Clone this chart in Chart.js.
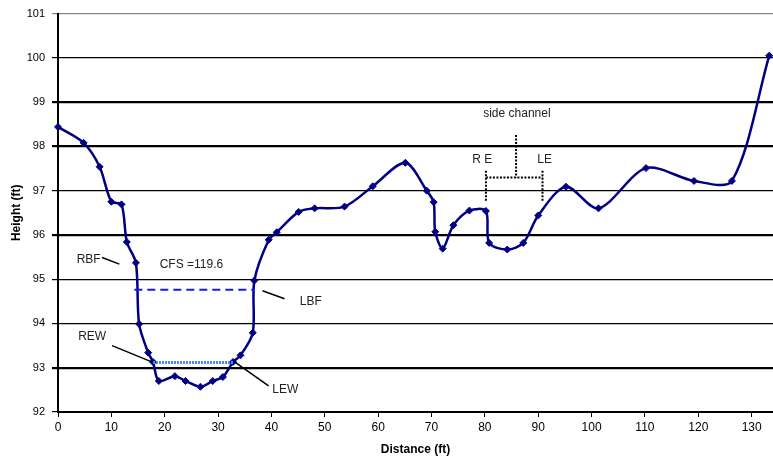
<!DOCTYPE html>
<html>
<head>
<meta charset="utf-8">
<script src="https://cdn.jsdelivr.net/npm/chart.js@4.4.0/dist/chart.umd.min.js"></script>
<style>
  html, body { margin: 0; padding: 0; background: #fff; }
  #wrap { width: 773px; height: 463px; }
</style>
</head>
<body>
<div id="wrap"><canvas id="xsChart" width="773" height="463"></canvas></div>
<script>
// surveyed cross-section (distance ft, height ft)
const distance = [0, 4.8, 7.8, 10.0, 11.9, 12.9, 14.6, 15.2, 16.9, 17.8, 18.9, 21.9, 23.9, 26.7,
  29.0, 30.9, 32.8, 34.2, 36.5, 36.8, 39.5, 41.0, 45.1, 48.1, 53.7, 59.0, 65.1, 69.1, 70.4,
  70.7, 72.1, 74.1, 77.1, 80.2, 80.8, 84.2, 87.2, 90.0, 95.2, 101.3, 110.2, 119.2, 126.3, 133.3];
const height = [98.44, 98.08, 97.54, 96.75, 96.69, 95.84, 95.37, 93.99, 93.34, 93.13, 92.70, 92.81,
  92.70, 92.57, 92.70, 92.79, 93.13, 93.28, 93.79, 94.97, 95.89, 96.06, 96.52, 96.60, 96.64,
  97.10, 97.63, 97.00, 96.74, 96.07, 95.69, 96.22, 96.55, 96.54, 95.82, 95.67, 95.82, 96.44,
  97.09, 96.60, 97.51, 97.22, 97.22, 100.05];

// bankfull and water surface lines
const bankfullX = [14.3, 36.9];
const bankfullY = [94.76, 94.76];
const waterX = [17.8, 32.8];
const waterY = [93.12, 93.12];

const xTicks = [0, 10, 20, 30, 40, 50, 60, 70, 80, 90, 100, 110, 120, 130];
const yTicks = [92, 93, 94, 95, 96, 97, 98, 99, 100, 101];
const thickGrid = [93, 96, 98, 99];

const FONT = "'Liberation Sans', Arial, sans-serif";

function pts(xs, ys) {
  return xs.map((x, i) => ({ x: x, y: ys[i] }));
}

// labels and pointer lines, placed in data units
const notes = [
  { text: "RBF", x: 5.75, y: 95.45 },
  { text: "CFS =119.6", x: 25.0, y: 95.33 },
  { text: "LBF", x: 45.3, y: 94.49, align: "left" },
  { text: "REW", x: 6.4, y: 93.71 },
  { text: "LEW", x: 42.6, y: 92.5 },
  { text: "side channel", x: 86.0, y: 98.73 },
  { text: "R E", x: 79.5, y: 97.69 },
  { text: "LE", x: 91.2, y: 97.69 },
];
const pointers = [
  { from: [8.26, 95.49], to: [11.5, 95.34] },
  { from: [38.33, 94.74], to: [42.45, 94.56] },
  { from: [10.13, 93.5], to: [17.8, 93.12] },
  { from: [32.9, 93.15], to: [39.46, 92.59] },
];
const bracket = [
  { from: [80.2, 97.45], to: [80.2, 96.76] },
  { from: [90.8, 97.45], to: [90.8, 96.76] },
  { from: [80.2, 97.3], to: [90.8, 97.3] },
  { from: [85.85, 98.26], to: [85.85, 97.3] },
];

const notesPlugin = {
  id: "notes",
  afterDatasetsDraw(chart) {
    const ctx = chart.ctx;
    const xs = chart.scales.x;
    const ys = chart.scales.y;
    const px = (p) => [xs.getPixelForValue(p[0]), ys.getPixelForValue(p[1])];
    ctx.save();
    ctx.strokeStyle = "#000";
    ctx.lineWidth = 1.5;
    pointers.forEach((l) => {
      const a = px(l.from), b = px(l.to);
      ctx.beginPath();
      ctx.moveTo(a[0], a[1]);
      ctx.lineTo(b[0], b[1]);
      ctx.stroke();
    });
    ctx.lineWidth = 2;
    ctx.setLineDash([2, 1.5]);
    bracket.forEach((l) => {
      const a = px(l.from), b = px(l.to);
      ctx.beginPath();
      ctx.moveTo(a[0], a[1]);
      ctx.lineTo(b[0], b[1]);
      ctx.stroke();
    });
    ctx.setLineDash([]);
    ctx.fillStyle = "#222";
    ctx.font = "12px " + FONT;
    ctx.textBaseline = "middle";
    notes.forEach((n) => {
      ctx.textAlign = n.align || "center";
      ctx.fillText(n.text, xs.getPixelForValue(n.x), ys.getPixelForValue(n.y));
    });
    ctx.restore();
  },
};

const ctx = document.getElementById("xsChart").getContext("2d");
new Chart(ctx, {
  type: "line",
  data: {
    datasets: [
      {
        label: "bankfull",
        data: pts(bankfullX, bankfullY),
        borderColor: "#1a1ae6",
        borderWidth: 2,
        borderDash: [8, 5],
        pointRadius: 0,
        tension: 0,
      },
      {
        label: "water",
        data: pts(waterX, waterY),
        borderColor: "#4f86ff",
        borderWidth: 3,
        borderDash: [2, 1],
        pointRadius: 0,
        tension: 0,
      },
      {
        label: "ground",
        data: pts(distance, height),
        borderColor: "#000080",
        backgroundColor: "#000080",
        borderWidth: 2.5,
        pointStyle: "rectRot",
        pointRadius: 3.5,
        pointBorderWidth: 1,
        tension: 0.3,
        clip: false,
      },
    ],
  },
  options: {
    responsive: false,
    animation: false,
    layout: { autoPadding: false, padding: { top: 12, right: 0, left: 0, bottom: 0 } },
    plugins: {
      legend: { display: false },
      tooltip: { enabled: false },
    },
    scales: {
      x: {
        type: "linear",
        min: 0,
        max: 134,
        afterBuildTicks: (scale) => {
          scale.ticks = xTicks.map((v) => ({ value: v }));
        },
        afterFit: (scale) => {
          scale.height = 51;
        },
        grid: {
          drawOnChartArea: false,
          color: "#000",
          tickLength: 5,
          lineWidth: 1,
        },
        border: { color: "#000", width: 2 },
        ticks: {
          color: "#000",
          font: { family: FONT, size: 12 },
          padding: 3,
          maxRotation: 0,
        },
        title: {
          display: true,
          text: "Distance (ft)",
          color: "#000",
          font: { family: FONT, size: 12, weight: "bold" },
          padding: { top: 4, bottom: 6 },
        },
      },
      y: {
        min: 92,
        max: 101,
        afterBuildTicks: (scale) => {
          scale.ticks = yTicks.map((v) => ({ value: v }));
        },
        afterFit: (scale) => {
          scale.width = 58;
        },
        grid: {
          color: (c) => (c.tick && c.tick.value === 101 ? "#888" : "#000"),
          lineWidth: (c) => (c.tick && thickGrid.includes(c.tick.value) ? 2.2 : 1.2),
          tickLength: 6,
        },
        border: { color: "#000", width: 2 },
        ticks: {
          color: "#000",
          font: { family: FONT, size: 11 },
          padding: 7,
        },
        title: {
          display: true,
          text: "Height (ft)",
          color: "#000",
          font: { family: FONT, size: 12, weight: "bold" },
          padding: { top: 9, bottom: 4 },
        },
      },
    },
  },
  plugins: [notesPlugin],
});
</script>
</body>
</html>
